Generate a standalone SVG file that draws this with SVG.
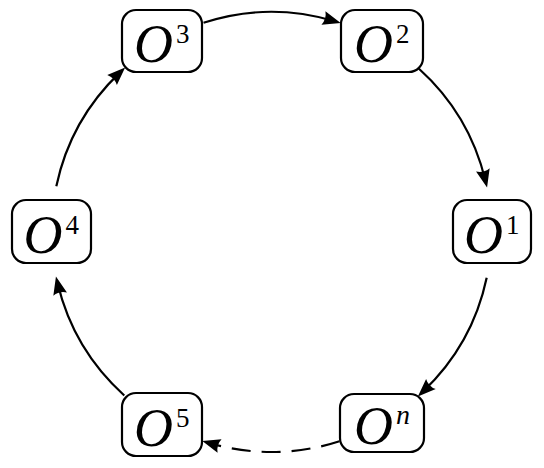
<svg xmlns="http://www.w3.org/2000/svg" width="544" height="468" viewBox="0 0 544 468">
<style>
.box{fill:#fff;stroke:#000;stroke-width:2.2}
text{font-family:"Times New Roman","Liberation Serif","DejaVu Serif",serif;fill:#000}
.o{font-style:italic;font-size:54px}
.s{font-size:27px}
.si{font-style:italic;font-size:28px}
.e{fill:none;stroke:#000;stroke-width:2.2;marker-end:url(#ah)}
.d{stroke-dasharray:19 11}
</style>
<defs>
<marker id="ah" markerUnits="userSpaceOnUse" markerWidth="20" markerHeight="16" refX="11" refY="7" orient="auto" overflow="visible">
<path d="M0,0 L18,7 L0,14 Q3.5,7 0,0 Z" fill="#000"/>
</marker>
</defs>
<g id="connectors">
<path class="e" d="M203.52,22.77 A220,220 0 0 1 333.98,21.06"/>
<path class="e" d="M418.71,68.51 A220,220 0 0 1 485.42,180.64"/>
<path class="e" d="M486.69,277.74 A220,220 0 0 1 422.94,391.58"/>
<path class="e d" d="M339.48,441.23 A220,220 0 0 1 209.02,442.94"/>
<path class="e" d="M124.29,395.49 A220,220 0 0 1 57.58,283.36"/>
<path class="e" d="M56.31,186.26 A220,220 0 0 1 120.06,72.42"/>
</g>
<g id="node-O3">
<rect class="box" x="122" y="10" width="80" height="62" rx="14"/>
<text class="o" x="134" y="62">O</text><text class="s" x="176" y="43">3</text>
</g>
<g id="node-O2">
<rect class="box" x="341" y="10" width="82" height="62" rx="14"/>
<text class="o" x="354" y="62">O</text><text class="s" x="396" y="43">2</text>
</g>
<g id="node-O1">
<rect class="box" x="453" y="200" width="78" height="63" rx="14"/>
<text class="o" x="464" y="252.5">O</text><text class="s" x="506" y="233.5">1</text>
</g>
<g id="node-On">
<rect class="box" x="340" y="394" width="84" height="58" rx="14"/>
<text class="o" x="354" y="444">O</text><text class="si" x="396" y="423.5">n</text>
</g>
<g id="node-O5">
<rect class="box" x="122" y="393" width="80" height="63" rx="14"/>
<text class="o" x="134" y="445.5">O</text><text class="s" x="176" y="426.5">5</text>
</g>
<g id="node-O4">
<rect class="box" x="12" y="200" width="79" height="63" rx="14"/>
<text class="o" x="23.5" y="252.5">O</text><text class="s" x="65.5" y="233.5">4</text>
</g>
</svg>
